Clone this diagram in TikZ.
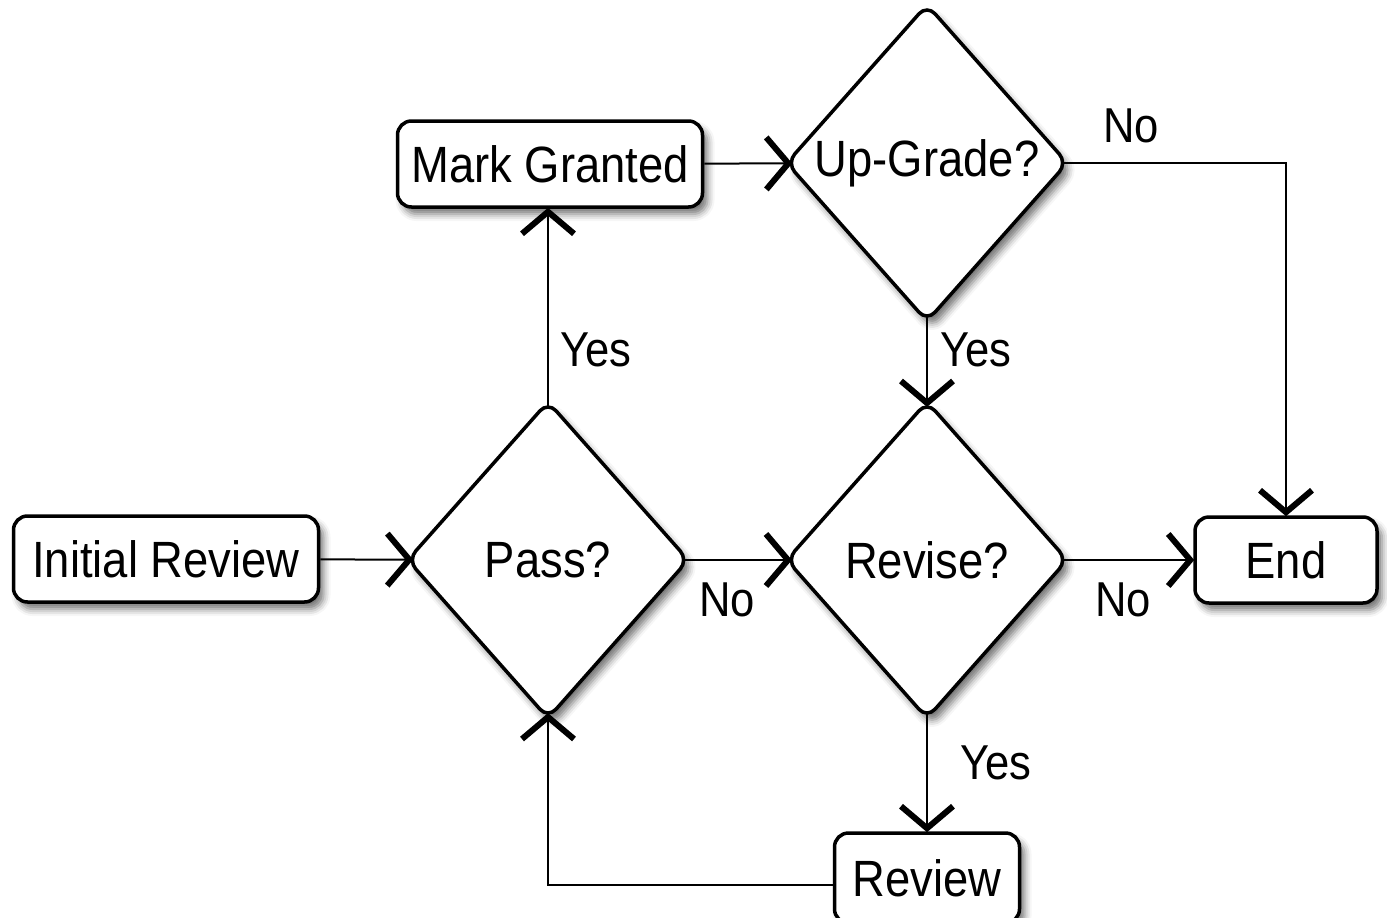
\documentclass[tikz,border=0pt]{standalone}
\usepackage{fontspec}
\setmainfont{Liberation Sans}[FakeStretch=0.89]
\usetikzlibrary{arrows.meta,shapes.geometric,shadows.blur}
\pgfdeclarearrow{
  name=BigBarb,
  setup code={
    \pgfarrowssettipend{0pt}
    \pgfarrowssetlineend{-2pt}
    \pgfarrowssetbackend{-24pt}
    \pgfarrowsupperhullpoint{-24pt}{26pt}
    \pgfarrowsupperhullpoint{0pt}{0pt}
  },
  drawing code={
    \pgfsetlinewidth{6pt}
    \pgfsetbuttcap
    \pgfsetmiterjoin
    \pgfsetdash{}{0pt}
    \pgfpathmoveto{\pgfqpoint{-25pt}{26pt}}
    \pgfpathlineto{\pgfqpoint{-3pt}{0pt}}
    \pgfpathlineto{\pgfqpoint{-25pt}{-26pt}}
    \pgfusepathqstroke
  }
}
\tikzset{
  shad/.style={blur shadow={shadow xshift=5pt, shadow yshift=-7pt, shadow blur radius=7pt, shadow opacity=55}},
  procbox/.style={draw, line width=3.5pt, rounded corners=14pt, fill=white, shad,
    minimum height=86pt, inner sep=0pt, font=\fontsize{51}{60}\selectfont},
  decision/.style={diamond, draw, line width=3.5pt, rounded corners=12pt, fill=white, shad,
    minimum width=278pt, minimum height=314pt, inner sep=0pt, aspect=0.88, outer sep=-3pt,
    font=\fontsize{51}{60}\selectfont},
  lbl/.style={font=\fontsize{49}{58}\selectfont, inner sep=0pt},
  arr/.style={line width=2pt, -BigBarb},
}
\begin{document}
\begin{tikzpicture}[x=1pt,y=-1pt]
\useasboundingbox (0,0) rectangle (1387,918);
\node[procbox, minimum width=305pt] (init) at (166,559) {Initial Review};
\node[decision] (pass) at (548,560) {Pass?};
\node[procbox, minimum width=305pt] (mark) at (550,164) {Mark Granted};
\node[decision] (up) at (927,163) {Up-Grade?};
\node[decision] (rev) at (927,560) {Revise?};
\node[procbox, minimum width=182pt] (end) at (1286,560) {End};
\node[procbox, minimum width=185pt, minimum height=90pt] (review) at (927,878) {Review};

\draw[arr] (init) -- (pass);
\draw[arr] (pass.north) -- (pass.north |- mark.south);
\draw[arr] (mark) -- (up);
\draw[arr] (up.east) -| (end.north);
\draw[arr] (up) -- (rev);
\draw[arr] (pass) -- (rev);
\draw[arr] (rev) -- (end);
\draw[arr] (rev) -- (review);
\coordinate (rw) at ([yshift=-7pt]review.west);
\draw[arr] (rw) -| (pass.south);

\node[lbl] (l1) at (596,350) {Yes};
\node[lbl] (l2) at (727,600) {No};
\node[lbl] (l3) at (1131,126) {No};
\node[lbl] (l4) at (976,350) {Yes};
\node[lbl] (l5) at (1123,600) {No};
\node[lbl] (l6) at (996,763) {Yes};
\end{tikzpicture}
\end{document}
